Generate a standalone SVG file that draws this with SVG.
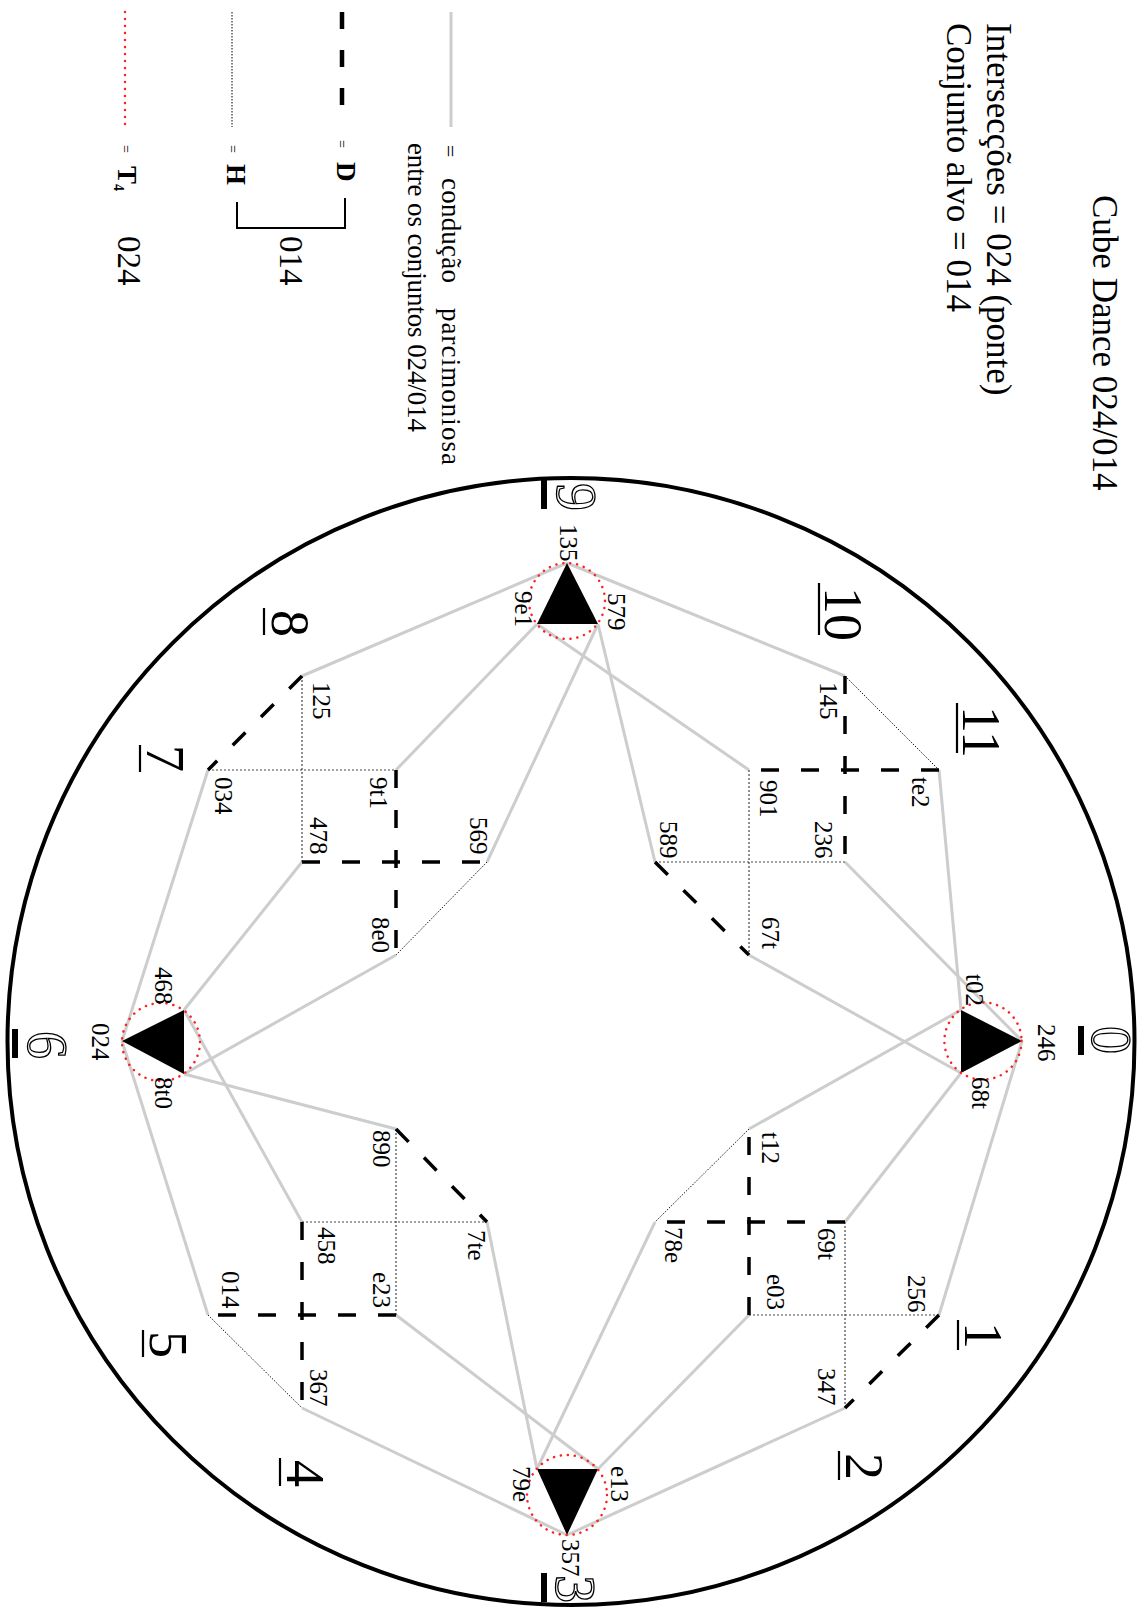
<svg xmlns="http://www.w3.org/2000/svg" width="1144" height="1607" viewBox="0 0 1144 1607">
<style>
.g{stroke:#cdcdcd;stroke-width:3;fill:none}
.d{stroke:#000;stroke-width:3.5;stroke-dasharray:18 22;fill:none}
.h{stroke:#444;stroke-width:1.2;stroke-dasharray:2 2;fill:none}
.hd{stroke:#000;stroke-width:0.9;stroke-dasharray:1.5 1.5;fill:none}
.t4{stroke:#ff2020;stroke-width:2.5;stroke-dasharray:0.1 6.9;stroke-linecap:round;fill:none}
.tri{fill:#000}
text{font-family:"Liberation Serif","Times New Roman",serif;fill:#000}
.lbl{font-size:25px}
.num{font-size:54px}
.axis{font-size:56px;fill:#fff;stroke:#000;stroke-width:1.3}
.bar{fill:#000}
.ul{stroke:#000;stroke-width:2.2}
.ttl{font-size:35px}
.leg{font-size:27px}
.eq{font-size:14px}
.bold{font-size:27px;font-weight:bold}
.lnum{font-size:33px}
</style>
<rect x="0" y="0" width="1144" height="1607" fill="#fff"/>

<g id="titles">
<text class="ttl" transform="translate(1093 195) rotate(90)">Cube Dance 024/014</text>
<text class="ttl" transform="translate(987 23) rotate(90)">Intersecções = 024 (ponte)</text>
<text class="ttl" transform="translate(947 23) rotate(90)">Conjunto alvo = 014</text>
</g>

<g id="legend">
<line x1="451" y1="12" x2="451" y2="127" class="g"/>
<text class="eq" style="font-size:22px" transform="translate(443 145) rotate(90)">=</text>
<text class="leg" transform="translate(442 178) rotate(90)" textLength="105" lengthAdjust="spacing">condução</text>
<text class="leg" transform="translate(442 308) rotate(90)" textLength="157" lengthAdjust="spacing">parcimoniosa</text>
<text class="leg" transform="translate(408 143) rotate(90)" textLength="289" lengthAdjust="spacing">entre os conjuntos 024/014</text>
<line x1="342" y1="12" x2="342" y2="108" class="d" style="stroke-width:4.5;stroke-dasharray:17 21"/>
<text class="eq" transform="translate(337 140) rotate(90)">=</text>
<text class="bold" transform="translate(337 162) rotate(90)">D</text>
<path d="M345 198 V228 H237 V202" fill="none" stroke="#000" stroke-width="2"/>
<text class="lnum" transform="translate(280 236) rotate(90)">014</text>
<line x1="232" y1="12" x2="232" y2="127" class="hd" style="stroke-width:1"/>
<text class="eq" transform="translate(228 145) rotate(90)">=</text>
<text class="bold" transform="translate(227 164) rotate(90)">H</text>
<line x1="125" y1="12" x2="125" y2="125" class="t4"/>
<text class="eq" transform="translate(121 145) rotate(90)">=</text>
<text class="bold" transform="translate(118 166) rotate(90)">T<tspan style="font-size:14px" dy="4">4</tspan></text>
<text class="lnum" transform="translate(118 236) rotate(90)">024</text>
</g>

<circle id="frame" cx="571" cy="1041.5" r="563.5" fill="none" stroke="#000" stroke-width="4"/>

<g id="axis-labels">
<rect class="bar" x="541" y="480" width="6" height="29"/>
<text class="axis" transform="translate(557 483) rotate(90)">9</text>
<line class="ul" x1="819" y1="583" x2="819" y2="635"/>
<text class="num" transform="translate(825 587) rotate(90)">10</text>
<line class="ul" x1="957" y1="703" x2="957" y2="753"/>
<text class="num" transform="translate(963 706) rotate(90)">11</text>
<rect class="bar" x="1078" y="1026" width="6" height="29"/>
<text class="axis" transform="translate(1092 1026) rotate(90)">0</text>
<line class="ul" x1="958" y1="1320" x2="958" y2="1350"/>
<text class="num" transform="translate(965 1322) rotate(90)">1</text>
<line class="ul" x1="839" y1="1451" x2="839" y2="1480"/>
<text class="num" transform="translate(846 1453) rotate(90)">2</text>
<rect class="bar" x="541" y="1573" width="6" height="29"/>
<text class="axis" transform="translate(556 1575) rotate(90)">3</text>
<line class="ul" x1="280" y1="1458" x2="280" y2="1486"/>
<text class="num" transform="translate(287 1460) rotate(90)">4</text>
<line class="ul" x1="143" y1="1330" x2="143" y2="1357"/>
<text class="num" transform="translate(150 1331) rotate(90)">5</text>
<rect class="bar" x="12" y="1029" width="6" height="29"/>
<text class="axis" transform="translate(28 1031) rotate(90)">6</text>
<line class="ul" x1="140" y1="745" x2="140" y2="772"/>
<text class="num" transform="translate(147 745) rotate(90)">7</text>
<line class="ul" x1="264" y1="608" x2="264" y2="635"/>
<text class="num" transform="translate(272 610) rotate(90)">8</text>
</g>

<g id="connectors">
<g id="parsimonious">
<line class="g" x1="567" y1="563" x2="845" y2="676"/>
<line class="g" x1="567" y1="563" x2="302" y2="676"/>
<line class="g" x1="537" y1="624" x2="749" y2="770"/>
<line class="g" x1="537" y1="624" x2="396" y2="770"/>
<line class="g" x1="598" y1="624" x2="655" y2="862"/>
<line class="g" x1="598" y1="624" x2="487" y2="862"/>
<line class="g" x1="1022" y1="1041" x2="845" y2="862"/>
<line class="g" x1="1022" y1="1041" x2="939" y2="1315"/>
<line class="g" x1="961" y1="1010" x2="939" y2="770"/>
<line class="g" x1="961" y1="1010" x2="749" y2="1129"/>
<line class="g" x1="961" y1="1073" x2="749" y2="955"/>
<line class="g" x1="961" y1="1073" x2="845" y2="1222"/>
<line class="g" x1="122" y1="1041" x2="208" y2="770"/>
<line class="g" x1="122" y1="1041" x2="208" y2="1315"/>
<line class="g" x1="184" y1="1010" x2="302" y2="862"/>
<line class="g" x1="184" y1="1010" x2="302" y2="1222"/>
<line class="g" x1="184" y1="1074" x2="396" y2="955"/>
<line class="g" x1="184" y1="1074" x2="396" y2="1129"/>
<line class="g" x1="567" y1="1535" x2="845" y2="1408"/>
<line class="g" x1="567" y1="1535" x2="302" y2="1408"/>
<line class="g" x1="598" y1="1469" x2="749" y2="1315"/>
<line class="g" x1="598" y1="1469" x2="396" y2="1315"/>
<line class="g" x1="537" y1="1469" x2="655" y2="1222"/>
<line class="g" x1="537" y1="1469" x2="487" y2="1222"/>
</g>
<g id="H-relations">
<line class="h" x1="655" y1="862" x2="845" y2="862"/>
<line class="h" x1="749" y1="770" x2="749" y2="955"/>
<line class="h" x1="845" y1="1222" x2="845" y2="1408"/>
<line class="h" x1="749" y1="1315" x2="939" y2="1315"/>
<line class="h" x1="208" y1="770" x2="396" y2="770"/>
<line class="h" x1="302" y1="676" x2="302" y2="862"/>
<line class="h" x1="396" y1="1129" x2="396" y2="1315"/>
<line class="h" x1="302" y1="1222" x2="487" y2="1222"/>
<line class="hd" x1="845" y1="676" x2="939" y2="770"/>
<line class="hd" x1="749" y1="1129" x2="655" y2="1222"/>
<line class="hd" x1="487" y1="862" x2="396" y2="955"/>
<line class="hd" x1="208" y1="1315" x2="302" y2="1408"/>
</g>
<g id="D-relations">
<line class="d" x1="845" y1="676" x2="845" y2="862"/>
<line class="d" x1="939" y1="770" x2="749" y2="770"/>
<line class="d" x1="655" y1="862" x2="749" y2="955"/>
<line class="d" x1="845" y1="1222" x2="655" y2="1222"/>
<line class="d" x1="749" y1="1315" x2="749" y2="1129"/>
<line class="d" x1="939" y1="1315" x2="845" y2="1408"/>
<line class="d" x1="302" y1="676" x2="208" y2="770"/>
<line class="d" x1="396" y1="770" x2="396" y2="955"/>
<line class="d" x1="302" y1="862" x2="487" y2="862"/>
<line class="d" x1="396" y1="1129" x2="487" y2="1222"/>
<line class="d" x1="302" y1="1222" x2="302" y2="1408"/>
<line class="d" x1="396" y1="1315" x2="208" y2="1315"/>
</g>
</g>

<g id="aug-9">
<polygon class="tri" points="567,563 537,624 598,624"/>
<circle class="t4" cx="567" cy="601" r="38"/>
<text class="lbl" transform="translate(560 524) rotate(90)">135</text>
<text class="lbl" transform="translate(608 593) rotate(90)">579</text>
<text class="lbl" transform="translate(515 591) rotate(90)">9e1</text>
</g>
<g id="aug-0">
<polygon class="tri" points="1022,1041 961,1010 961,1073"/>
<circle class="t4" cx="983" cy="1041" r="38.6"/>
<text class="lbl" transform="translate(1038 1024) rotate(90)">246</text>
<text class="lbl" transform="translate(966 974) rotate(90)">t02</text>
<text class="lbl" transform="translate(972 1077) rotate(90)">68t</text>
</g>
<g id="aug-6">
<polygon class="tri" points="122,1041 184,1010 184,1074"/>
<circle class="t4" cx="161" cy="1042" r="39"/>
<text class="lbl" transform="translate(92 1023) rotate(90)">024</text>
<text class="lbl" transform="translate(155 967) rotate(90)">468</text>
<text class="lbl" transform="translate(155 1077) rotate(90)">8t0</text>
</g>
<g id="aug-3">
<polygon class="tri" points="567,1535 537,1469 598,1469"/>
<circle class="t4" cx="567" cy="1495" r="40"/>
<text class="lbl" transform="translate(562 1539) rotate(90)">357</text>
<text class="lbl" transform="translate(611 1466) rotate(90)">e13</text>
<text class="lbl" transform="translate(513 1466) rotate(90)">79e</text>
</g>

<g id="n145"><text class="lbl" transform="translate(820 682) rotate(90)">145</text></g>
<g id="nte2"><text class="lbl" transform="translate(912 777) rotate(90)">te2</text></g>
<g id="n901"><text class="lbl" transform="translate(760 780) rotate(90)">901</text></g>
<g id="n236"><text class="lbl" transform="translate(815 821) rotate(90)">236</text></g>
<g id="n589"><text class="lbl" transform="translate(660 821) rotate(90)">589</text></g>
<g id="n67t"><text class="lbl" transform="translate(762 917) rotate(90)">67t</text></g>

<g id="nt12"><text class="lbl" transform="translate(762 1132) rotate(90)">t12</text></g>
<g id="n78e"><text class="lbl" transform="translate(665 1227) rotate(90)">78e</text></g>
<g id="n69t"><text class="lbl" transform="translate(818 1228) rotate(90)">69t</text></g>
<g id="ne03"><text class="lbl" transform="translate(767 1274) rotate(90)">e03</text></g>
<g id="n256"><text class="lbl" transform="translate(908 1275) rotate(90)">256</text></g>
<g id="n347"><text class="lbl" transform="translate(818 1368) rotate(90)">347</text></g>

<g id="n125"><text class="lbl" transform="translate(313 682) rotate(90)">125</text></g>
<g id="n034"><text class="lbl" transform="translate(215 777) rotate(90)">034</text></g>
<g id="n9t1"><text class="lbl" transform="translate(370 777) rotate(90)">9t1</text></g>
<g id="n478"><text class="lbl" transform="translate(310 817) rotate(90)">478</text></g>
<g id="n569"><text class="lbl" transform="translate(470 817) rotate(90)">569</text></g>
<g id="n8e0"><text class="lbl" transform="translate(372 917) rotate(90)">8e0</text></g>

<g id="n890"><text class="lbl" transform="translate(373 1130) rotate(90)">890</text></g>
<g id="n7te"><text class="lbl" transform="translate(468 1230) rotate(90)">7te</text></g>
<g id="n458"><text class="lbl" transform="translate(318 1227) rotate(90)">458</text></g>
<g id="ne23"><text class="lbl" transform="translate(373 1272) rotate(90)">e23</text></g>
<g id="n014"><text class="lbl" transform="translate(222 1271) rotate(90)">014</text></g>
<g id="n367"><text class="lbl" transform="translate(310 1369) rotate(90)">367</text></g>
</svg>
